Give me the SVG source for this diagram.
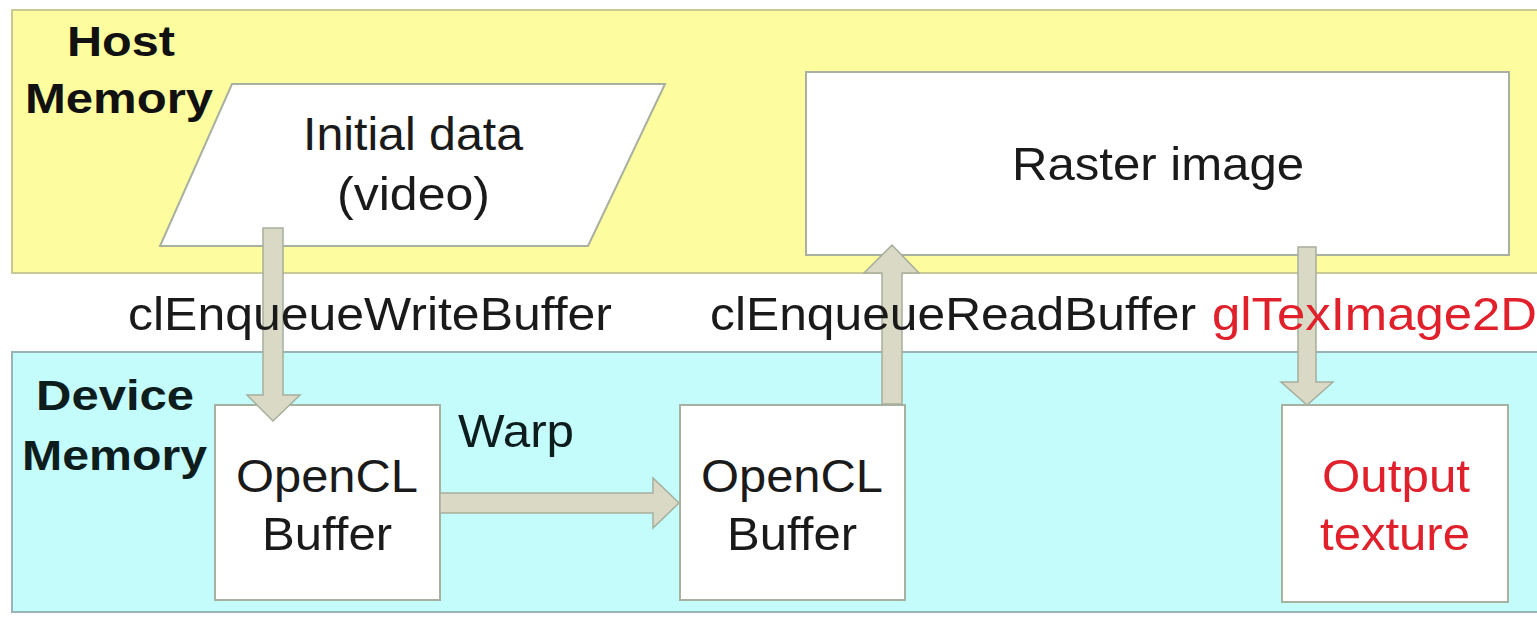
<svg xmlns="http://www.w3.org/2000/svg" width="1537" height="617" viewBox="0 0 1537 617">
<style>
.t{font-family:"Liberation Sans",Arial,sans-serif;font-size:47px;fill:#1a1a1a;}
.b{font-family:"Liberation Sans",Arial,sans-serif;font-size:43px;font-weight:bold;fill:#111;}
.red{fill:#e0202a;}
.box{fill:#ffffff;stroke:#a8b0a0;stroke-width:2;}
.arr{fill:#d9d9c6;stroke:#a6ae9c;stroke-width:1.5;}
</style>
<rect width="1537" height="617" fill="#ffffff"/>
<g id="host-memory">
<rect x="12" y="10" width="1535" height="263" fill="#fdfc9e" stroke="#c9c996" stroke-width="2"/>
<text class="b" x="67" y="56" textLength="108" lengthAdjust="spacingAndGlyphs">Host</text>
<text class="b" x="25" y="113" textLength="188" lengthAdjust="spacingAndGlyphs">Memory</text>
</g>
<g id="device-memory">
<rect x="12" y="352" width="1535" height="260" fill="#c4fbfb" stroke="#98b4b4" stroke-width="2"/>
<text class="b" x="36" y="410" textLength="158" lengthAdjust="spacingAndGlyphs" style="fill:#0d1c1c">Device</text>
<text class="b" x="22" y="470" textLength="185" lengthAdjust="spacingAndGlyphs" style="fill:#0d1c1c">Memory</text>
</g>
<g id="initial-data">
<polygon class="box" points="232,84 665,84 588,246 160,246"/>
<text class="t" x="303" y="150" textLength="220" lengthAdjust="spacingAndGlyphs">Initial data</text>
<text class="t" x="337" y="210" textLength="153" lengthAdjust="spacingAndGlyphs">(video)</text>
</g>
<g id="raster-image">
<rect class="box" x="806" y="72" width="703" height="183"/>
<text class="t" x="1012" y="180" textLength="292" lengthAdjust="spacingAndGlyphs">Raster image</text>
</g>
<g id="opencl-buffer-1">
<rect class="box" x="215" y="405" width="225" height="195"/>
<text class="t" x="236" y="492" textLength="182" lengthAdjust="spacingAndGlyphs">OpenCL</text>
<text class="t" x="262" y="550" textLength="130" lengthAdjust="spacingAndGlyphs">Buffer</text>
</g>
<g id="opencl-buffer-2">
<rect class="box" x="680" y="405" width="225" height="195"/>
<text class="t" x="701" y="492" textLength="182" lengthAdjust="spacingAndGlyphs">OpenCL</text>
<text class="t" x="727" y="550" textLength="130" lengthAdjust="spacingAndGlyphs">Buffer</text>
</g>
<g id="output-texture">
<rect class="box" x="1282" y="405" width="226" height="197"/>
<text class="t red" x="1322" y="492" textLength="148" lengthAdjust="spacingAndGlyphs">Output</text>
<text class="t red" x="1320" y="550" textLength="150" lengthAdjust="spacingAndGlyphs">texture</text>
</g>
<g id="connectors">
<polygon class="arr" points="263,228 283,228 283,395 300,395 273,421 247,395 263,395"/>
<polygon class="arr" points="440,493 653,493 653,478 679,503 653,528 653,513 440,513"/>
<polygon class="arr" points="882,404 882,273 864,273 892,245 919,273 902,273 902,404"/>
<polygon class="arr" points="1298,247 1316,247 1316,382 1333,382 1307,405 1281,382 1298,382"/>
<text class="t" x="128" y="330" textLength="484" lengthAdjust="spacingAndGlyphs">clEnqueueWriteBuffer</text>
<text class="t" x="710" y="330" textLength="486" lengthAdjust="spacingAndGlyphs">clEnqueueReadBuffer</text>
<text class="t red" x="1212" y="330" textLength="325" lengthAdjust="spacingAndGlyphs">glTexImage2D</text>
<text class="t" x="458" y="447" textLength="116" lengthAdjust="spacingAndGlyphs" style="fill:#0d1c1c">Warp</text>
</g>
</svg>
